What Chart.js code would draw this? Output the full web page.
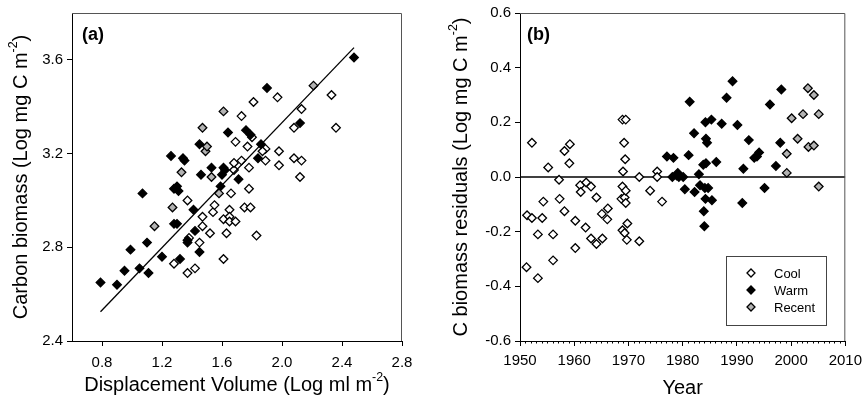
<!DOCTYPE html>
<html>
<head>
<meta charset="utf-8">
<script src="https://cdn.jsdelivr.net/npm/chart.js@4.4.0/dist/chart.umd.min.js"></script>
<style>
html, body { margin: 0; padding: 0; background: #fff; }
#wrap { position: relative; width: 868px; height: 399px; }
canvas { position: absolute; top: 0; }
</style>
</head>
<body>
<div id="wrap">
  <canvas id="panel-a" width="434" height="399" style="left:0px"></canvas>
  <canvas id="panel-b" width="434" height="399" style="left:434px"></canvas>
</div>
<script>
// ---- panel (a): carbon biomass vs displacement volume ----
const coolVolume  = [1.28,1.37,1.42,1.38,1.37,1.45,1.47,1.47,1.52,1.54,1.55,1.61,1.61,1.63,1.65,1.65,1.65,1.66,1.69,1.68,1.68,1.69,1.73,1.73,1.75,1.78,1.77,1.78,1.80,1.79,1.83,1.81,1.89,1.89,1.87,1.97,1.98,1.98,2.08,2.08,2.12,2.13,2.13,2.33,2.36];
const coolBiomass = [2.73,2.69,2.71,2.84,3.00,2.82,2.93,2.89,2.86,2.95,2.98,2.92,2.75,2.86,2.96,2.93,2.91,3.03,2.91,3.13,3.16,3.25,3.36,3.17,2.97,3.05,3.23,3.14,3.27,2.97,2.85,3.42,3.17,3.22,3.21,3.44,3.21,3.15,3.31,3.18,3.10,3.17,3.39,3.45,3.31];
const warmVolume  = [0.79,0.90,0.95,0.99,1.05,1.07,1.10,1.11,1.20,1.26,1.28,1.30,1.31,1.28,1.30,1.32,1.34,1.35,1.37,1.37,1.41,1.42,1.45,1.45,1.46,1.53,1.59,1.60,1.61,1.62,1.64,1.71,1.76,1.79,1.86,1.84,1.90,2.12,2.48];
const warmBiomass = [2.65,2.64,2.70,2.79,2.71,3.03,2.82,2.69,2.76,3.19,3.05,3.06,3.04,2.90,2.90,2.75,3.18,3.17,2.83,2.82,2.96,2.87,2.78,3.24,3.11,3.14,3.06,3.11,3.14,3.13,3.29,3.09,3.30,3.28,3.24,3.18,3.48,3.33,3.61];
const recentVolume  = [1.15,1.27,1.33,1.47,1.49,1.50,1.53,1.61,1.58,2.21];
const recentBiomass = [2.89,2.97,3.12,3.31,3.21,3.23,3.10,3.38,3.03,3.49];
const fitVolume  = [0.79, 2.48];
const fitBiomass = [2.525, 3.652];
const volumeTicks  = [0.8, 1.2, 1.6, 2.0, 2.4, 2.8];
const biomassTicks = [2.4, 2.8, 3.2, 3.6];

// ---- panel (b): residuals by year ----
const coolYear = [1951.2,1951.3,1952.2,1952.2,1953.3,1953.3,1954.1,1954.3,1955.2,1956.1,1956.1,1957.2,1957.3,1958.2,1958.2,1959.1,1959.2,1960.2,1960.2,1961.1,1961.2,1962.2,1962.1,1963.1,1963.1,1964.1,1964.1,1965.1,1965.2,1966.2,1966.1,1968.9,1969.5,1969.2,1969.4,1969.0,1968.9,1968.7,1969.3,1969.5,1969.5,1969.8,1968.9,1969.3,1969.7,1972.0,1972.0,1974.0,1975.3,1975.3,1976.2];
const coolResidual = [-0.33,-0.14,-0.15,0.125,-0.21,-0.37,-0.15,-0.09,0.035,-0.21,-0.305,-0.01,-0.08,-0.125,0.095,0.05,0.12,-0.16,-0.26,-0.03,-0.055,-0.02,-0.185,-0.035,-0.225,-0.075,-0.245,-0.135,-0.225,-0.115,-0.155,0.21,0.21,0.125,0.065,0.02,-0.035,-0.08,-0.075,-0.05,-0.095,-0.17,-0.195,-0.205,-0.23,0.0,-0.235,-0.05,0.02,0.0,-0.09];
const warmYear = [1977.1,1978.3,1978.1,1978.9,1979.1,1979.3,1980.1,1980.4,1981.1,1981.3,1982.1,1982.2,1983.0,1983.2,1983.8,1983.9,1984.0,1984.2,1984.3,1984.5,1984.3,1984.1,1984.2,1984.7,1985.3,1985.4,1986.2,1987.2,1988.1,1989.2,1990.1,1991.2,1991.0,1992.2,1993.2,1993.7,1994.1,1995.1,1996.1,1997.2,1998.0,1998.2];
const warmResidual = [0.075,0.07,0.0,0.005,0.015,0.0,0.0,-0.045,0.08,0.275,0.16,-0.055,0.01,-0.03,0.045,-0.125,-0.18,0.20,0.14,0.125,0.05,-0.04,-0.08,-0.04,0.21,-0.085,0.055,0.195,0.29,0.35,0.19,0.03,-0.095,0.135,0.07,0.075,0.09,-0.04,0.265,0.04,0.125,0.32];
const recentYear = [1999.2,1999.2,2000.1,2001.2,2002.2,2003.1,2003.2,2004.2,2004.2,2005.1,2005.1];
const recentResidual = [0.015,0.085,0.215,0.14,0.23,0.325,0.11,0.30,0.115,0.23,-0.035];
const zeroYear = [1950, 2010];
const zeroResidual = [0, 0];
const yearTicks = [1950, 1960, 1970, 1980, 1990, 2000, 2010];
const residualTicks = [-0.6, -0.4, -0.2, 0.0, 0.2, 0.4, 0.6];

const groups = ['Cool', 'Warm', 'Recent'];
const groupFill = ['#ffffff', '#000000', '#b3b3b3'];

const FONT = '"Liberation Sans", Arial, Helvetica, sans-serif';

function pts(xs, ys) {
  return xs.map((x, i) => ({ x: x, y: ys[i] }));
}

function scatterSet(label, xs, ys, fill, order) {
  return {
    type: 'scatter',
    label: label,
    data: pts(xs, ys),
    pointStyle: 'rectRot',
    pointRadius: 4.3,
    pointBorderWidth: 1.3,
    pointBorderColor: '#000',
    pointBackgroundColor: fill,
    order: order
  };
}

function lineSet(xs, ys, order) {
  return {
    type: 'line',
    data: pts(xs, ys),
    borderColor: '#000',
    borderWidth: 1.3,
    pointRadius: 0,
    fill: false,
    order: order
  };
}

// draws a title with an optional superscript part, centred on (x, y)
function drawRich(ctx, parts, x, y, size, rotate) {
  ctx.save();
  ctx.translate(x, y);
  if (rotate) ctx.rotate(-Math.PI / 2);
  ctx.fillStyle = '#000';
  ctx.textBaseline = 'middle';
  ctx.textAlign = 'left';
  let total = 0;
  parts.forEach(p => {
    ctx.font = (p.sup ? size * 0.62 : size) + 'px ' + FONT;
    p.w = ctx.measureText(p.t).width;
    total += p.w;
  });
  let cx = -total / 2;
  parts.forEach(p => {
    ctx.font = (p.sup ? size * 0.62 : size) + 'px ' + FONT;
    ctx.fillText(p.t, cx, p.sup ? -size * 0.36 : 0);
    cx += p.w;
  });
  ctx.restore();
}

const framePlugin = {
  id: 'frame',
  afterDraw(chart, args, opts) {
    const ctx = chart.ctx;
    const a = chart.chartArea;
    ctx.save();
    ctx.strokeStyle = '#555';
    ctx.lineWidth = 1;
    ctx.beginPath();
    ctx.moveTo(a.left, a.top + 0.5);
    ctx.lineTo(a.right - 0.5, a.top + 0.5);
    ctx.lineTo(a.right - 0.5, a.bottom);
    ctx.stroke();
    ctx.restore();

    // panel letter
    ctx.save();
    ctx.font = 'bold 18px ' + FONT;
    ctx.fillStyle = '#000';
    ctx.textBaseline = 'alphabetic';
    ctx.fillText(opts.letter, opts.letterX, 40);
    ctx.restore();

    drawRich(ctx, opts.xTitle, (a.left + a.right) / 2, opts.xTitleY, opts.titleSize, false);
    drawRich(ctx, opts.yTitle, opts.yTitleX, (a.top + a.bottom) / 2, opts.titleSize, true);

    if (opts.minorTicks) {
      const xs = chart.scales.x;
      ctx.save();
      ctx.strokeStyle = '#000';
      ctx.lineWidth = 1;
      ctx.beginPath();
      for (let yr = 1951; yr < 2010; yr++) {
        if (yr % 10 === 0) continue;
        const px = Math.round(xs.getPixelForValue(yr)) + 0.5;
        ctx.moveTo(px, a.bottom);
        ctx.lineTo(px, a.bottom + 2.5);
      }
      ctx.stroke();
      ctx.restore();
    }

    if (opts.legend) {
      const L = opts.legend;
      ctx.save();
      ctx.strokeStyle = '#444';
      ctx.lineWidth = 1;
      ctx.strokeRect(L.x + 0.5, L.y + 0.5, L.w, L.h);
      ctx.font = '13px ' + FONT;
      ctx.textBaseline = 'middle';
      groups.forEach((g, i) => {
        const yy = L.y + 17 + i * 17;
        ctx.fillStyle = groupFill[i];
        ctx.strokeStyle = '#000';
        ctx.lineWidth = 1.3;
        Chart.helpers.drawPoint(ctx, { pointStyle: 'rectRot', radius: 4.0, borderWidth: 1.3, rotation: 0 }, L.x + 25, yy);
        ctx.fillStyle = '#000';
        ctx.fillText(g, L.x + 48, yy + 1);
      });
      ctx.restore();
    }
  }
};

function axis(min, max, tickValues, fmt, isY, fitSize, pad) {
  return {
    type: 'linear',
    min: min,
    max: max,
    afterBuildTicks: s => { s.ticks = tickValues.map(v => ({ value: v })); },
    afterFit: s => { if (isY) s.width = fitSize; else s.height = fitSize; },
    border: { display: true, color: '#000', width: 1 },
    grid: { display: true, drawOnChartArea: false, drawTicks: true, tickLength: 5, tickColor: '#000', tickWidth: 1 },
    ticks: {
      color: '#000',
      font: { family: FONT, size: 15 },
      padding: pad,
      autoSkip: false,
      maxRotation: 0,
      callback: fmt
    }
  };
}

new Chart(document.getElementById('panel-a'), {
  data: {
    datasets: [
      scatterSet('Cool', coolVolume, coolBiomass, groupFill[0], 4),
      scatterSet('Warm', warmVolume, warmBiomass, groupFill[1], 3),
      scatterSet('Recent', recentVolume, recentBiomass, groupFill[2], 2),
      lineSet(fitVolume, fitBiomass, 1)
    ]
  },
  options: {
    responsive: false,
    animation: false,
    layout: { padding: { left: 0, top: 12, right: 32, bottom: 0 } },
    scales: {
      x: axis(0.6, 2.8, volumeTicks, v => v.toFixed(1), false, 58, 8),
      y: axis(2.4, 3.8, biomassTicks, v => v.toFixed(1), true, 72, 4)
    },
    plugins: {
      legend: { display: false },
      tooltip: { enabled: false },
      frame: {
        letter: '(a)', letterX: 82,
        titleSize: 20,
        xTitle: [{ t: 'Displacement Volume (Log ml m' }, { t: '-2', sup: true }, { t: ')' }],
        xTitleY: 385,
        yTitle: [{ t: 'Carbon biomass (Log mg C m' }, { t: '-2', sup: true }, { t: ')' }],
        yTitleX: 21
      }
    }
  },
  plugins: [framePlugin]
});

new Chart(document.getElementById('panel-b'), {
  data: {
    datasets: [
      scatterSet('Cool', coolYear, coolResidual, groupFill[0], 4),
      scatterSet('Warm', warmYear, warmResidual, groupFill[1], 3),
      scatterSet('Recent', recentYear, recentResidual, groupFill[2], 2),
      lineSet(zeroYear, zeroResidual, 5)
    ]
  },
  options: {
    responsive: false,
    animation: false,
    layout: { padding: { left: 0, top: 12, right: 19, bottom: 0 } },
    scales: {
      x: axis(1950, 2010, yearTicks, v => String(v), false, 58, 6),
      y: axis(-0.6, 0.6, residualTicks, v => v.toFixed(1), true, 86, 4)
    },
    plugins: {
      legend: { display: false },
      tooltip: { enabled: false },
      frame: {
        letter: '(b)', letterX: 93,
        titleSize: 20,
        xTitle: [{ t: 'Year' }],
        xTitleY: 388,
        yTitle: [{ t: 'C biomass residuals (Log mg C m' }, { t: '-2', sup: true }, { t: ')' }],
        yTitleX: 27,
        minorTicks: true,
        legend: { x: 292, y: 256, w: 100, h: 69 }
      }
    }
  },
  plugins: [framePlugin]
});
</script>
</body>
</html>
